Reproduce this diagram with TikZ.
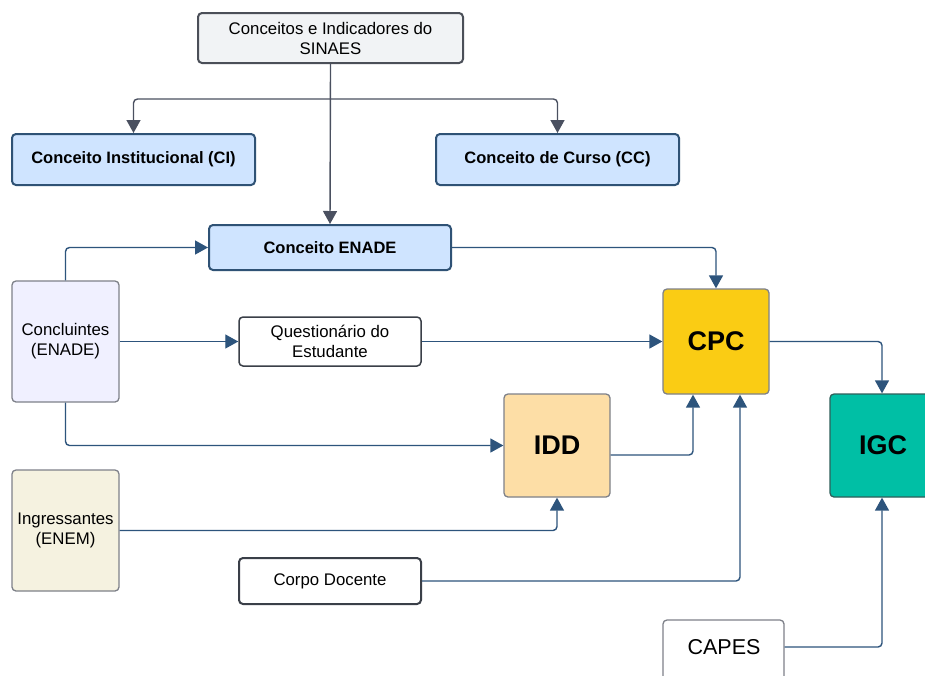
\documentclass[tikz,border=0pt]{standalone}
\usepackage{fontspec}
\setmainfont{Liberation Sans}
\usetikzlibrary{arrows.meta}
\definecolor{topfill}{HTML}{F1F3F5}
\definecolor{topdraw}{HTML}{4B4F58}
\definecolor{bluefill}{HTML}{CFE4FF}
\definecolor{bluedraw}{HTML}{2F5275}
\definecolor{lavfill}{HTML}{F0F0FF}
\definecolor{beigefill}{HTML}{F5F2E0}
\definecolor{cpcfill}{HTML}{FACC14}
\definecolor{iddfill}{HTML}{FDDEA6}
\definecolor{igcfill}{HTML}{00BFA5}
\definecolor{igcdraw}{HTML}{2F5F5A}
\definecolor{graydraw}{HTML}{7E8189}
\definecolor{darkdraw}{HTML}{3A3F48}
\definecolor{linkblue}{HTML}{2D547C}
\definecolor{linkgray}{HTML}{4A5060}
\tikzset{
  box/.style={rectangle, rounded corners=4pt, inner sep=0pt, align=center, line width=1.5pt},
  plain/.style={box, font=\fontsize{16.8}{20}\selectfont},
  bluebox/.style={box, fill=bluefill, draw=bluedraw, line width=2pt, font=\bfseries\fontsize{16.5}{20}\selectfont},
  bigbox/.style={box, line width=1.3pt, font=\bfseries\fontsize{27}{32}\selectfont},
  link/.style={draw=linkblue, line width=1.4pt, rounded corners=4pt, -{Triangle[width=14pt,length=13pt]}},
  glink/.style={link, draw=linkgray},
}
\begin{document}
\begin{tikzpicture}[x=1pt,y=-1pt]
\useasboundingbox (0,0) rectangle (925,675);
\fill[white] (0,0) rectangle (925,675);
% nodes
\node[plain, fill=topfill, draw=topdraw, line width=2pt, minimum width=265pt, minimum height=50pt] (top) at (330.5,38) {Conceitos e Indicadores do\\SINAES};
\node[bluebox, minimum width=243pt, minimum height=51pt] (ci) at (133.5,159.5) {Conceito Institucional (CI)};
\node[bluebox, minimum width=243pt, minimum height=51pt] (cc) at (557.5,159.5) {Conceito de Curso (CC)};
\node[bluebox, minimum width=242pt, minimum height=45pt] (enade) at (330,247.5) {Conceito ENADE};
\node[plain, fill=lavfill, draw=graydraw, line width=1.3pt, minimum width=107pt, minimum height=121pt] (conc) at (65.5,341.5) {Concluintes\\(ENADE)};
\node[plain, fill=white, draw=darkdraw, minimum width=182pt, minimum height=49pt] (quest) at (330,341.5) {Questionário do\\Estudante};
\node[bigbox, fill=cpcfill, draw=graydraw, minimum width=106pt, minimum height=105pt] (cpc) at (716,341.5) {CPC};
\node[bigbox, fill=iddfill, draw=graydraw, minimum width=106pt, minimum height=103pt] (idd) at (557,445.5) {IDD};
\node[bigbox, fill=igcfill, draw=igcdraw, minimum width=106pt, minimum height=103pt] (igc) at (883,445.5) {IGC};
\node[plain, fill=beigefill, draw=graydraw, line width=1.3pt, minimum width=107pt, minimum height=121pt] (ingr) at (65.5,530.5) {Ingressantes\\(ENEM)};
\node[plain, fill=white, draw=darkdraw, line width=2pt, minimum width=182pt, minimum height=46pt] (corpo) at (330,581) {Corpo Docente};
\node[box, fill=white, draw=graydraw, line width=1.3pt, minimum width=121pt, minimum height=70pt] (capes) at (723.5,655) {};
\node[font=\fontsize{21.5}{25}\selectfont] (capest) at (724,647) {CAPES};
% connectors
\coordinate (br) at (330,99);
\draw[glink] (top.south) -- (enade.north);
\draw[glink] (br) -| (ci.north);
\draw[glink] (br) -| (cc.north);
\draw[link] (conc.north) |- (enade.west);
\draw[link] (enade.east) -| (cpc.north);
\draw[link] (conc.east) -- (quest.west);
\draw[link] (quest.east) -- (cpc.west);
\draw[link] (conc.south) |- (idd.west);
\draw[link] (idd.east |- 0,455) -| ([xshift=-23pt]cpc.south);
\draw[link] (corpo.east) -| ([xshift=24pt]cpc.south);
\draw[link] (ingr.east) -| (idd.south);
\draw[link] (cpc.east) -| ([xshift=-1pt]igc.north);
\draw[link] (capes.east |- capest) -| ([xshift=-1pt]igc.south);
\end{tikzpicture}
\end{document}
